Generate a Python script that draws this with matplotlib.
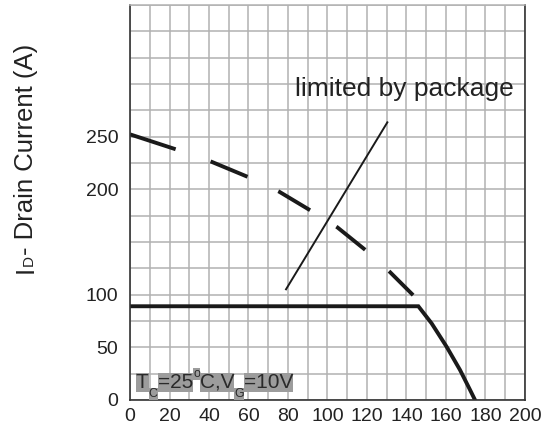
import matplotlib
matplotlib.use("Agg")
import matplotlib.pyplot as plt
from matplotlib.transforms import IdentityTransform

plt.rcParams['font.family'] = ['Liberation Sans', 'DejaVu Sans']

# drain current vs case temperature
case_temp = [0, 146, 152.7, 160.3, 167.1, 172.2, 174.7]
drain_current = [89, 89, 72.8, 50.6, 28.5, 9.5, 0]

# silicon limit (dashed)
si_temp = [0, 23.2, 41.1, 59.8, 75.5, 91.6, 105.0, 119.6, 131.6, 143.8, 146.2]
si_current = [252.2, 238.0, 226.3, 211.7, 197.8, 179.7, 163.9, 141.8, 121.5, 98.7, 90]

# package limit pointer
pkg_temp = [79, 130.3]
pkg_current = [105.1, 263.6]

x_ticks = list(range(0, 201, 10))
x_labels = [str(v) if v % 20 == 0 else '' for v in x_ticks]
y_ticks = list(range(0, 376, 25))
y_shown = [0, 50, 100, 200, 250]
y_labels = [str(v) if v in y_shown else '' for v in y_ticks]

ink = '#222222'
grid_col = '#b2b2b2'

fig = plt.figure(figsize=(5.52, 4.34), dpi=100)
ax = fig.add_axes([130 / 552, 34 / 434, 395 / 552, 395 / 434])

lw = 2.8
ax.plot(case_temp, drain_current, color='#1a1a1a', lw=lw, solid_joinstyle='miter')

# dash lengths in pixels, converted to linewidth units
dash_px = [48, 37, 40, 34, 37, 31, 37, 32, 34, 40]
dash = tuple(p * 0.72 / lw for p in dash_px)
ax.plot(si_temp, si_current, color='#1a1a1a', lw=lw, linestyle=(0, dash))

ax.plot(pkg_temp, pkg_current, color='#1a1a1a', lw=1.4)

ax.text(83.5, 288.6, 'limited by package', fontsize=19, color=ink, va='baseline')

ax.set_xlim(0, 200)
ax.set_ylim(0, 375)
ax.set_xticks(x_ticks)
ax.set_xticklabels(x_labels)
ax.set_yticks(y_ticks)
ax.set_yticklabels(y_labels)
ax.tick_params(axis='both', length=0, labelsize=14, labelcolor=ink)
ax.tick_params(axis='x', pad=6)
ax.tick_params(axis='y', pad=8.5)
ax.set_axisbelow(True)
ax.grid(True, color=grid_col, lw=1.1)

for side in ['left', 'bottom', 'right']:
    ax.spines[side].set_color('#333333')
    ax.spines[side].set_linewidth(1.2)
ax.spines['top'].set_color(grid_col)
ax.spines['top'].set_linewidth(1.1)

renderer = fig.canvas.get_renderer()

# condition label, each run on its own grey patch
runs = [('T', 15, 0), ('C', 9, -9), ('=25', 15, 0), ('o', 9, 11),
        ('C,V', 15, 0), ('G', 9, -9), ('=10V', 15, 0)]
x = 136
for s, size, dy in runs:
    t = fig.text(x, 46 + dy, s, transform=IdentityTransform(), fontsize=size,
                 color='#2a2a2a', ha='left', va='baseline',
                 bbox=dict(facecolor='#9c9c9c', edgecolor='none', pad=0))
    x = t.get_window_extent(renderer).x1

# y axis title with small D
ylab = [('I', 18.5), ('D', 11), ('- Drain Current (A)', 18.5)]
y = 161
for s, size in ylab:
    t = fig.text(33, y, s, transform=IdentityTransform(), fontsize=size,
                 color=ink, rotation=90, rotation_mode='anchor',
                 ha='left', va='baseline')
    y = t.get_window_extent(renderer).y1

fig.savefig('out.png', dpi=100)
